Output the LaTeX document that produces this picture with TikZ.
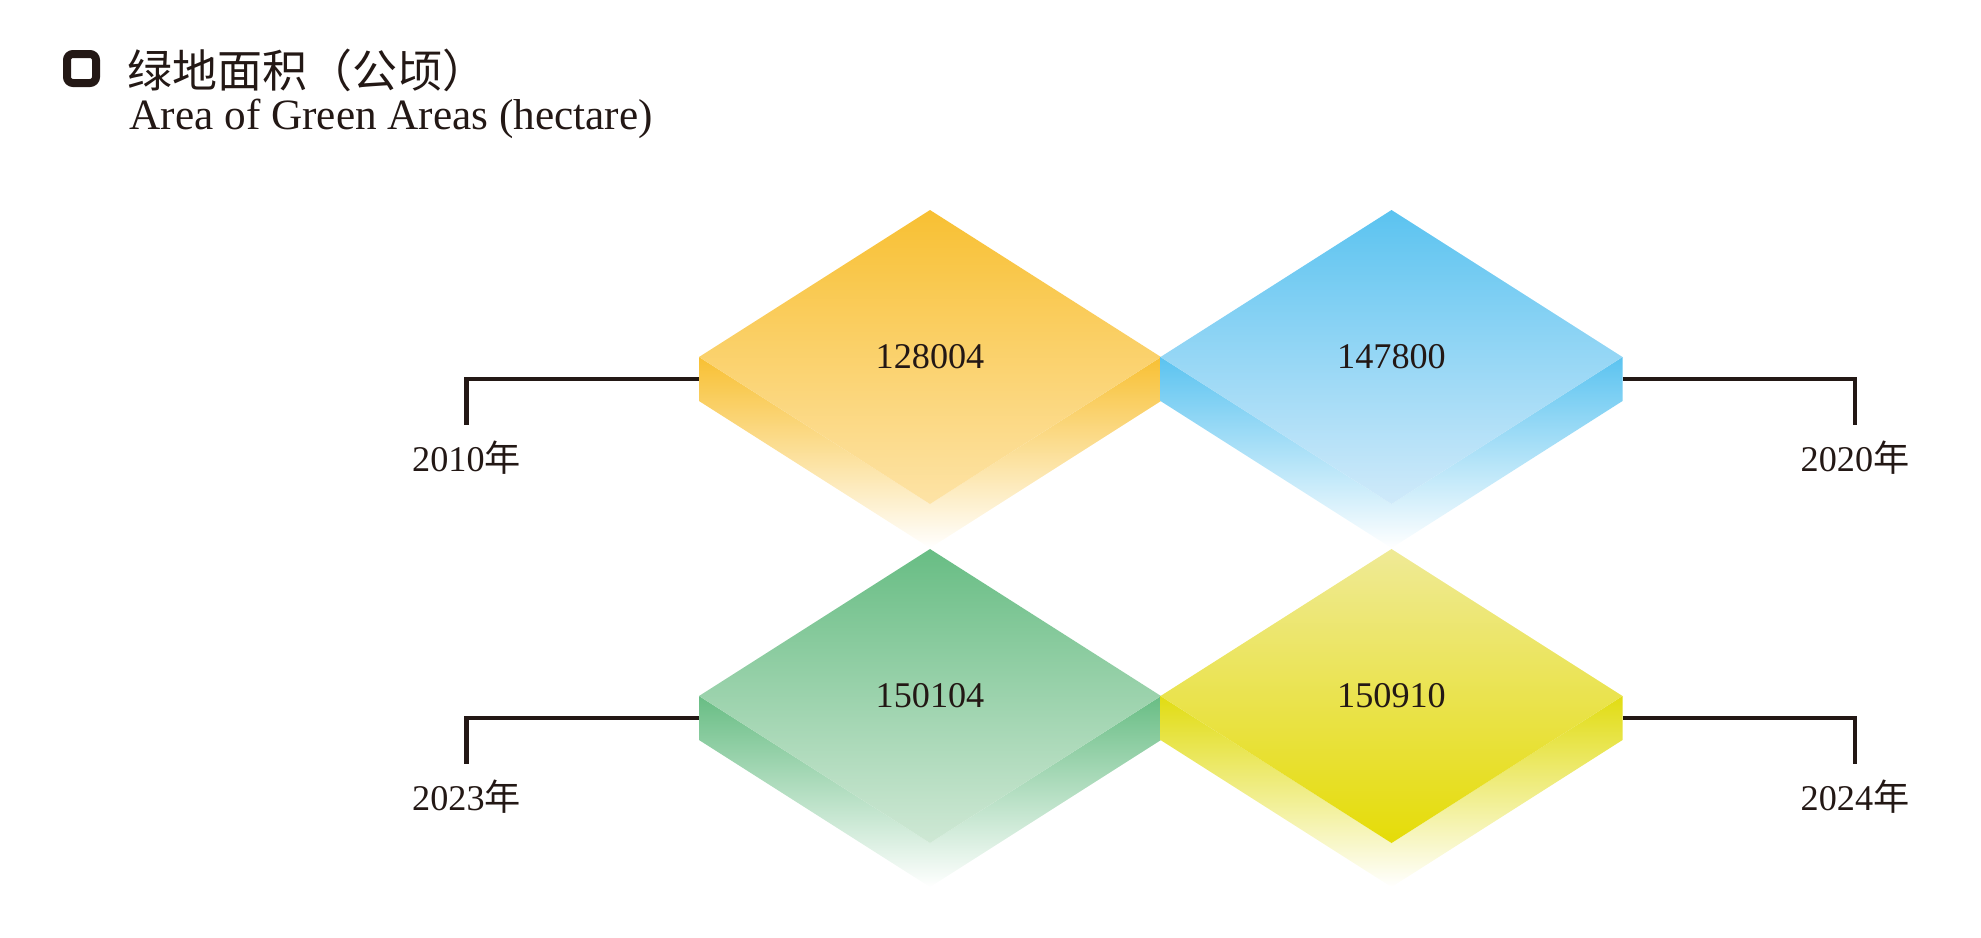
\documentclass[tikz,border=0pt]{standalone}
\usepackage{fontspec}
\setmainfont{Liberation Serif}
\newfontfamily\cjk{Noto Sans CJK SC}
\usepackage{tikz}
\usetikzlibrary{positioning,calc}

\definecolor{ink}{HTML}{231815}
\definecolor{orangeTop}{HTML}{F8C033}
\definecolor{orangeBot}{HTML}{FDE3A6}
\definecolor{blueTop}{HTML}{5BC3F0}
\definecolor{blueBot}{HTML}{D0EAFA}
\definecolor{greenTop}{HTML}{68BD84}
\definecolor{greenBot}{HTML}{CFE8D5}
\definecolor{yellowTop}{HTML}{EFEA96}
\definecolor{yellowBot}{HTML}{E5DC08}
\definecolor{yellowSide}{HTML}{E1DC12}

\begin{document}
\begin{tikzpicture}[x=1cm,y=1cm,
    bracket/.style={draw=ink,line width=0.043cm},
    value/.style={font=\fontsize{10.3}{12}\selectfont,text=ink,inner sep=0pt},
    year/.style={font=\fontsize{10.3}{12}\selectfont,text=ink,inner sep=0pt},
    iconbox/.style={draw=ink,line width=0.08cm,rounded corners=0.06cm,minimum size=0.29cm,inner sep=0pt}]

    \useasboundingbox (0,0) rectangle (19.81,-9.37);

    \node[iconbox] (icon) at (0.815,-0.685) {};
    \node[anchor=west,inner sep=0pt,text=ink,font=\cjk\fontsize{12.8}{14}\selectfont] (titleCN) at (1.27,-0.70) {绿地面积（公顷）};
    \node[anchor=base west,inner sep=0pt,text=ink,font=\fontsize{12.3}{14}\selectfont] (titleEN) at (1.29,-1.29) {Area of Green Areas (hectare)};

    \coordinate (d2010) at (9.30,-3.57);
    \coordinate (d2020) at (13.915,-3.57);
    \coordinate (d2023) at (9.30,-6.96);
    \coordinate (d2024) at (13.915,-6.96);

    \coordinate (e2010) at ($(d2010)+(-2.31,-0.22)$);
    \coordinate (e2020) at ($(d2020)+(2.31,-0.22)$);
    \coordinate (e2023) at ($(d2023)+(-2.31,-0.22)$);
    \coordinate (e2024) at ($(d2024)+(2.31,-0.22)$);

    \coordinate (t2010) at (4.665,-4.25);
    \coordinate (t2020) at (18.55,-4.25);
    \coordinate (t2023) at (4.665,-7.64);
    \coordinate (t2024) at (18.55,-7.64);

    \draw[bracket] (e2010) -| (t2010);
    \draw[bracket] (e2020) -| (t2020);
    \draw[bracket] (e2023) -| (t2023);
    \draw[bracket] (e2024) -| (t2024);

    \node[year,below=0.15cm of t2010] (y2010) {2010{\cjk 年}};
    \node[year,below=0.15cm of t2020] (y2020) {2020{\cjk 年}};
    \node[year,below=0.15cm of t2023] (y2023) {2023{\cjk 年}};
    \node[year,below=0.15cm of t2024] (y2024) {2024{\cjk 年}};

    \shade[top color=orangeTop,bottom color=white] ($(d2010)+(-2.31,0)$) -- ++(2.31,-1.47) -- ++(0,-0.44) -- ++(-2.31,1.47) -- cycle;
    \shade[top color=orangeTop,bottom color=white] ($(d2010)+(2.31,0)$) -- ++(-2.31,-1.47) -- ++(0,-0.44) -- ++(2.31,1.47) -- cycle;
    \shade[top color=orangeTop,bottom color=orangeBot] ($(d2010)+(0,1.47)$) -- ++(2.31,-1.47) -- ++(-2.31,-1.47) -- ++(-2.31,1.47) -- cycle;

    \shade[top color=blueTop,bottom color=white] ($(d2020)+(-2.31,0)$) -- ++(2.31,-1.47) -- ++(0,-0.44) -- ++(-2.31,1.47) -- cycle;
    \shade[top color=blueTop,bottom color=white] ($(d2020)+(2.31,0)$) -- ++(-2.31,-1.47) -- ++(0,-0.44) -- ++(2.31,1.47) -- cycle;
    \shade[top color=blueTop,bottom color=blueBot] ($(d2020)+(0,1.47)$) -- ++(2.31,-1.47) -- ++(-2.31,-1.47) -- ++(-2.31,1.47) -- cycle;

    \shade[top color=greenTop,bottom color=white] ($(d2023)+(-2.31,0)$) -- ++(2.31,-1.47) -- ++(0,-0.44) -- ++(-2.31,1.47) -- cycle;
    \shade[top color=greenTop,bottom color=white] ($(d2023)+(2.31,0)$) -- ++(-2.31,-1.47) -- ++(0,-0.44) -- ++(2.31,1.47) -- cycle;
    \shade[top color=greenTop,bottom color=greenBot] ($(d2023)+(0,1.47)$) -- ++(2.31,-1.47) -- ++(-2.31,-1.47) -- ++(-2.31,1.47) -- cycle;

    \shade[top color=yellowSide,middle color=yellowSide!80,bottom color=white] ($(d2024)+(-2.31,0)$) -- ++(2.31,-1.47) -- ++(0,-0.44) -- ++(-2.31,1.47) -- cycle;
    \shade[top color=yellowSide,middle color=yellowSide!80,bottom color=white] ($(d2024)+(2.31,0)$) -- ++(-2.31,-1.47) -- ++(0,-0.44) -- ++(2.31,1.47) -- cycle;
    \shade[top color=yellowTop,bottom color=yellowBot] ($(d2024)+(0,1.47)$) -- ++(2.31,-1.47) -- ++(-2.31,-1.47) -- ++(-2.31,1.47) -- cycle;

    \node[value] (v2010) at (d2010) {128004};
    \node[value] (v2020) at (d2020) {147800};
    \node[value] (v2023) at (d2023) {150104};
    \node[value] (v2024) at (d2024) {150910};
\end{tikzpicture}
\end{document}
